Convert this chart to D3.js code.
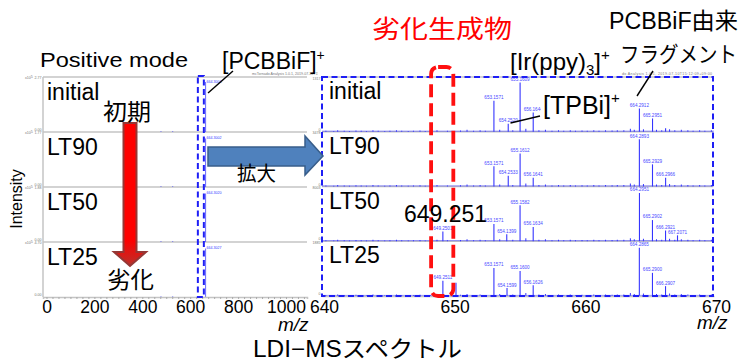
<!DOCTYPE html>
<html><head><meta charset="utf-8">
<script src="https://cdn.jsdelivr.net/npm/d3@7"></script>
<style>
body{margin:0;background:#fff}
svg{display:block}
text{font-family:"Liberation Sans",Arial,"Noto Sans CJK JP",sans-serif}
.jp{font-family:"Noto Sans CJK JP",sans-serif}
</style>
</head><body>
<svg id="c" width="745" height="363"></svg>
<script>
// ---- data ----
const samples = ["initial", "LT90", "LT50", "LT25"];
const fullTicks = [0, 200, 400, 600, 800, 1000];
const zoomTicks = [640, 650, 660, 670];
const fullMaxLabels = ["2.77", "1.77", "1.88", "4.70"];
const zoomMaxLabels = ["1317", "3478", "8003", "1885"];

// full range spectra: [m/z, relative intensity]
const fullInitial = [[478, 1.5], [527, 1.5], [664.30, 100]];
const fullLT90 = [[478, 1.5], [527, 1.5], [664.30, 97]];
const fullLT50 = [[478, 1.5], [527, 1.5], [664.30, 97]];
const fullLT25 = [[478, 1.5], [527, 1.5], [664.30, 97]];
const fullLabels = ["664.3004", "664.3002", "664.3020", "664.3027"];

// 640-670 window: [m/z, relative intensity, label]
const zoomInitial = [[653.1571, 63, "653.1571"], [654.2520, 16, "654.2520"], [655.1609, 100, "655.1609"],
  [656.1644, 39, "656.1644"], [664.2912, 47, "664.2912"], [665.2951, 27, "665.2951"], [666.2950, 7, null]];
const zoomLT90 = [[653.1571, 41, "653.1571"], [654.2533, 22, "654.2533"], [655.1612, 67, "655.1612"],
  [656.1641, 18, "656.1641"], [664.2893, 96, "664.2893"], [665.2929, 45, "665.2929"], [666.2966, 18, "666.2966"]];
const zoomLT50 = [[649.2501, 20, "649.2501"], [653.1571, 35, "653.1571"], [654.1399, 14, "654.1399"],
  [655.1582, 73, "655.1582"], [656.1634, 29, "656.1634"], [664.2951, 98, "664.2951"],
  [665.2902, 43, "665.2902"], [666.2921, 22, "666.2921"], [667.2071, 12, "667.2071"]];
const zoomLT25 = [[649.2511, 31, "649.2511"], [650.2545, 27, null], [653.1571, 57, "653.1571"],
  [654.1599, 16, "654.1599"], [655.1600, 51, "655.1600"], [656.1626, 22, "656.1626"],
  [664.2865, 98, "664.2865"], [665.2900, 47, "665.2900"], [666.2907, 20, "666.2907"]];

// small background peaks in the 640-670 window: [m/z, relative intensity]
const minorPeaks = [[640.3, 2], [640.9, 1.5], [641.2, 3], [641.7, 2], [642.1, 1.5], [642.6, 2.5], [643.0, 2],
  [643.4, 1.5], [643.9, 3], [644.3, 2], [644.8, 1.5], [645.2, 2], [645.7, 3], [646.1, 2], [646.6, 1.5],
  [647.0, 2], [647.5, 2.5], [647.9, 1.5], [648.3, 2], [648.8, 3], [649.6, 2], [650.6, 2.5], [651.1, 4],
  [651.6, 2], [652.1, 3], [652.5, 2], [653.6, 4], [654.6, 3], [655.6, 6], [656.6, 3], [657.1, 4],
  [657.6, 2], [658.1, 3], [658.5, 2], [659.0, 3], [659.4, 2], [659.9, 2.5], [660.3, 2], [660.8, 3],
  [661.2, 2], [661.7, 3], [662.2, 2.5], [662.6, 3], [663.1, 3], [663.6, 6], [663.9, 4], [664.6, 5],
  [665.6, 4], [666.0, 3], [666.6, 5], [667.0, 3], [667.5, 4], [668.0, 3], [668.4, 2], [668.9, 3],
  [669.3, 2], [669.8, 3]];

const fullSpectra = [fullInitial, fullLT90, fullLT50, fullLT25];
const zoomSpectra = [zoomInitial, zoomLT90, zoomLT50, zoomLT25];

// ---- scales ----
const svg = d3.select("#c");
const defs = svg.append("defs");
const BLUE = "#3535ff";
const xFull = d3.scaleLinear().domain([-14.6, 1087.7]).range([43, 307]);
const xZoom = d3.scaleLinear().domain([640, 670]).range([322, 714]);
const bandFull = d3.scaleBand().domain(samples).range([77, 297]);
const bandZoom = d3.scaleBand().domain(samples).range([77, 296]);
const yFull = d3.scaleLinear().domain([0, 100]).range([bandFull.bandwidth(), 5]);
const yZoom = d3.scaleLinear().domain([0, 100]).range([bandZoom.bandwidth(), 5.5]);

// ---- panel frames ----
const frame = svg.append("g").attr("stroke", "#c4c4c4").attr("stroke-width", 1.5);
samples.forEach(s => {
  frame.append("line").attr("x1", 43).attr("x2", 307).attr("y1", bandFull(s)).attr("y2", bandFull(s));
  frame.append("line").attr("x1", 322).attr("x2", 713).attr("y1", bandZoom(s)).attr("y2", bandZoom(s));
});
frame.append("line").attr("x1", 43).attr("x2", 43).attr("y1", 77).attr("y2", 297);

// tiny intensity labels
const tiny = svg.append("g").attr("fill", "#777").style("font-size", "3.6px");
samples.forEach((s, i) => {
  const t = bandFull(s), b = t + bandFull.bandwidth();
  tiny.append("text").attr("x", 25).attr("y", t + 2).text("x10").append("tspan").attr("dy", -1).text("5");
  tiny.append("text").attr("x", 41.5).attr("y", t + 2).attr("text-anchor", "end").text(fullMaxLabels[i]);
  tiny.append("text").attr("x", 41.5).attr("y", b - 1).attr("text-anchor", "end").text("0.00");
  const tz = bandZoom(s), bz = tz + bandZoom.bandwidth();
  tiny.append("text").attr("x", 320.5).attr("y", tz + 2.5).attr("text-anchor", "end").text(zoomMaxLabels[i]);
  tiny.append("text").attr("x", 320.5).attr("y", bz - 1).attr("text-anchor", "end").text("0");
});
defs.append("clipPath").attr("id", "lclip").append("rect")
  .attr("x", 0).attr("y", 60).attr("width", 318).attr("height", 20);
tiny.append("text").attr("clip-path", "url(#lclip)").attr("x", 252).attr("y", 74.5)
  .text("mcTornado Analysis 1.0.1, 2019-07-10T15:12:09+09:00");
tiny.append("text").attr("x", 622).attr("y", 74.5).attr("textLength", 90)
  .text("do Analysis 1.0.1, 2019-07-10T15:12:09+09:00");

// ---- full range spectra ----
samples.forEach((s, i) => {
  const g = svg.append("g").attr("transform", `translate(0,${bandFull(s)})`);
  g.selectAll("line.pk").data(fullSpectra[i]).join("line")
    .attr("x1", d => xFull(d[0])).attr("x2", d => xFull(d[0]))
    .attr("y1", yFull(0)).attr("y2", d => yFull(d[1]))
    .attr("stroke", BLUE).attr("stroke-width", 1).attr("stroke-opacity", 0.75);
  const top = fullSpectra[i].reduce((a, b) => b[1] > a[1] ? b : a);
  g.append("text").attr("x", xFull(top[0]) + 1).attr("y", yFull(top[1]) + 0.5)
    .attr("fill", BLUE).style("font-size", "3.6px").text(fullLabels[i]);
});

// ---- 640-670 spectra ----
samples.forEach((s, i) => {
  const g = svg.append("g").attr("transform", `translate(0,${bandZoom(s)})`);
  g.append("line").attr("x1", xZoom(640)).attr("x2", xZoom(670))
    .attr("y1", yZoom(0) - 0.6).attr("y2", yZoom(0) - 0.6)
    .attr("stroke", BLUE).attr("stroke-width", 0.9).attr("stroke-opacity", 0.6);
  g.selectAll("line.mn").data(minorPeaks).join("line")
    .attr("x1", d => xZoom(d[0])).attr("x2", d => xZoom(d[0]))
    .attr("y1", yZoom(0)).attr("y2", d => yZoom(d[1]))
    .attr("stroke", BLUE).attr("stroke-width", 1);
  g.selectAll("line.pk").data(zoomSpectra[i]).join("line")
    .attr("x1", d => xZoom(d[0])).attr("x2", d => xZoom(d[0]))
    .attr("y1", yZoom(0)).attr("y2", d => yZoom(d[1]))
    .attr("stroke", BLUE).attr("stroke-width", 1.1);
  g.selectAll("text.lb").data(zoomSpectra[i].filter(d => d[2])).join("text")
    .attr("x", d => xZoom(d[0])).attr("y", d => yZoom(d[1]) - 1.6)
    .attr("text-anchor", "middle").attr("fill", "#4848ff").style("font-size", "4.6px")
    .text(d => d[2]);
});

// ---- axes ----
const axF = svg.append("g").attr("transform", "translate(0,297)");
axF.call(d3.axisBottom(xFull).tickValues(d3.range(0, 1076, 25)).tickSize(2).tickFormat(""));
axF.call(g => { g.select(".domain").attr("stroke", "#c4c4c4").attr("stroke-width", 1.5);
  g.selectAll(".tick line").attr("stroke", "#aaa"); });
const axF2 = svg.append("g").attr("transform", "translate(0,297)")
  .call(d3.axisBottom(xFull).tickValues(fullTicks).tickFormat(d3.format("d")).tickSize(0).tickPadding(3.6));
axF2.select(".domain").remove();
axF2.selectAll("text").attr("fill", "#000").style("font-size", "17.5px")
  .style("font-family", "'Liberation Sans',Arial,sans-serif");

const axZ = svg.append("g").attr("transform", "translate(0,296)")
  .call(d3.axisBottom(xZoom).tickValues(zoomTicks).tickFormat(d3.format("d")).tickSize(0).tickPadding(4.6));
axZ.select(".domain").attr("stroke", "#c4c4c4").attr("stroke-width", 1.5);
axZ.selectAll("text").attr("fill", "#000").attr("dx", 2).style("font-size", "17.5px")
  .style("font-family", "'Liberation Sans',Arial,sans-serif");

// ---- highlight frames ----
svg.append("rect").attr("x", xZoom(640)).attr("y", 77).attr("width", xZoom(670) - xZoom(640) - 1)
  .attr("height", 219).attr("fill", "none").attr("stroke", "#1e1ef5").attr("stroke-width", 2)
  .attr("stroke-dasharray", "6,3.5");
const zoomMarker = [632, 657];
svg.append("rect").attr("x", xFull(zoomMarker[0])).attr("y", 76)
  .attr("width", xFull(zoomMarker[1]) - xFull(zoomMarker[0])).attr("height", 221)
  .attr("fill", "none").attr("stroke", "#1e1ef5").attr("stroke-width", 2).attr("stroke-dasharray", "6,3.5");
const productWindow = [648.35, 650.05];
svg.append("rect").attr("x", xZoom(productWindow[0])).attr("y", 67)
  .attr("width", xZoom(productWindow[1]) - xZoom(productWindow[0])).attr("height", 229)
  .attr("rx", 7).attr("fill", "none").attr("stroke", "#ff1010").attr("stroke-width", 3.8)
  .attr("stroke-dasharray", "13,6");

// ---- arrows ----
svg.append("path")
  .attr("d", "M208,147 L305,147 L305,136 L323,156 L305,175 L305,166 L208,166 Z")
  .attr("fill", "#4f81bd").attr("stroke", "#385d8a").attr("stroke-width", 1.5);
const grad = defs.append("linearGradient").attr("id", "rg")
  .attr("x1", 0).attr("y1", 0).attr("x2", 0).attr("y2", 1);
grad.append("stop").attr("offset", "0").attr("stop-color", "#ff0000");
grad.append("stop").attr("offset", "0.82").attr("stop-color", "#ff0000");
grad.append("stop").attr("offset", "1").attr("stop-color", "#b8322c");
svg.append("path")
  .attr("d", "M123.5,123 L136.5,123 L136.5,252 L146,252 L130,266 L114,252 L123.5,252 Z")
  .attr("fill", "url(#rg)").attr("stroke", "#953735").attr("stroke-width", 2);

// ---- leader lines ----
const lead = svg.append("g").attr("stroke", "#000").attr("stroke-width", 1.4);
lead.append("line").attr("x1", 208).attr("y1", 93).attr("x2", 233).attr("y2", 71);
lead.append("line").attr("x1", 510.5).attr("y1", 123).attr("x2", 540).attr("y2", 116);
lead.append("line").attr("x1", 637).attr("y1", 96).attr("x2", 653).attr("y2", 71);

// ---- texts ----
const T = (x, y, txt, size, opt = {}) => {
  const t = svg.append("text").attr("x", x).attr("y", y).style("font-size", size + "px")
    .attr("fill", opt.fill || "#000").text(txt);
  if (opt.cls) t.attr("class", opt.cls);
  if (opt.len) t.attr("textLength", opt.len).attr("lengthAdjust", "spacingAndGlyphs");
  if (opt.anchor) t.attr("text-anchor", opt.anchor);
  if (opt.italic) t.style("font-style", "italic");
  return t;
};
samples.forEach(s => {
  T(47, bandFull(s) + 22.5, s, 23);
  T(329, bandZoom(s) + 22, s, 23);
});
T(40, 67, "Positive mode", 21, {len: 148});
const pc = T(222, 69, "[PCBBiF]", 23);
pc.append("tspan").attr("dy", -9).style("font-size", "14px").text("+");
T(103, 120, "初期", 23, {cls: "jp", len: 48});
T(107, 288, "劣化", 23, {cls: "jp", len: 47});
T(237, 181, "拡大", 20, {cls: "jp", len: 39});
svg.append("text").attr("transform", "translate(21.5,199) rotate(-90)").attr("text-anchor", "middle")
  .style("font-size", "16px").text("Intensity");
T(278, 331, "m/z", 19, {italic: true});
T(697, 329, "m/z", 19, {italic: true});
T(253, 357, "LDI−MSスペクトル", 23, {len: 209});
T(372, 37.5, "劣化生成物", 25, {cls: "jp", fill: "#ff0000", len: 140});
T(609, 29, "PCBBiF由来", 23, {len: 129});
T(620, 61.5, "フラグメント", 22, {cls: "jp", len: 117});
const ir = T(510, 70, "[Ir(ppy)", 24);
ir.append("tspan").attr("dy", 5).style("font-size", "15px").text("3");
ir.append("tspan").attr("dy", -5).text("]");
ir.append("tspan").attr("dy", -10).style("font-size", "15px").text("+");
svg.append("rect").attr("x", 541).attr("y", 88).attr("width", 80).attr("height", 30).attr("fill", "#fff");
const tp = T(543, 114, "[TPBi]", 25);
tp.append("tspan").attr("dy", -11).style("font-size", "15px").text("+");
T(404, 222, "649.251", 23);
</script>
</body></html>
